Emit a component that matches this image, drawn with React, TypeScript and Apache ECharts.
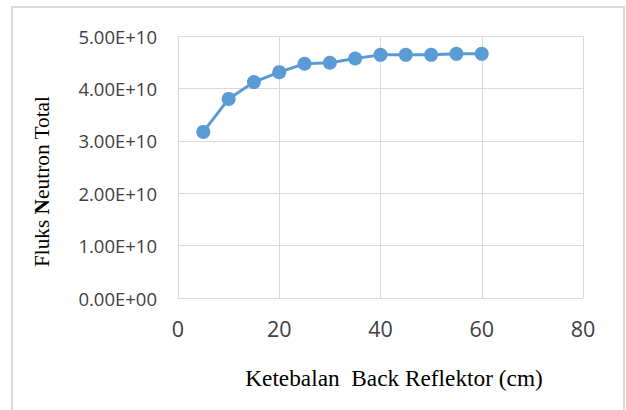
import React, { useEffect, useRef } from "react";
import * as echarts from "echarts";

const thickness = [5, 10, 15, 20, 25, 30, 35, 40, 45, 50, 55, 60];
const flux = [3.17e10, 3.8e10, 4.12e10, 4.31e10, 4.47e10, 4.49e10, 4.57e10, 4.64e10, 4.64e10, 4.64e10, 4.66e10, 4.66e10];
const xTitle = "Ketebalan  Back Reflektor (cm)";
const yTitle = "Fluks {b|N}eutron Total";

function sci(v: number): string {
  if (v === 0) return "0.00E+00";
  const exp = Math.floor(Math.log10(Math.abs(v)));
  const mant = v / Math.pow(10, exp);
  const sign = exp < 0 ? "-" : "+";
  const e = String(Math.abs(exp)).padStart(2, "0");
  return mant.toFixed(2) + "E" + sign + e;
}

export default function App() {
  const ref = useRef<HTMLDivElement>(null);
  useEffect(() => {
    if (!ref.current) return;
    const chart = echarts.init(ref.current, undefined, { renderer: "svg" });
    const grid = "#d9d9d9";
    chart.setOption({
      animation: false,
      backgroundColor: "#ffffff",
      grid: { left: 178, right: 43, top: 36, bottom: 112 },
      xAxis: {
        type: "value",
        min: 0,
        max: 80,
        interval: 20,
        axisLine: { show: false },
        axisTick: { show: false },
        splitLine: { show: true, lineStyle: { color: grid, width: 1 } },
        axisLabel: { color: "#404040", fontFamily: "Open Sans", fontSize: 21.5, margin: 19 },
      },
      yAxis: {
        type: "value",
        min: 0,
        max: 5e10,
        interval: 1e10,
        axisLine: { show: false },
        axisTick: { show: false },
        splitLine: { show: true, lineStyle: { color: grid, width: 1 } },
        axisLabel: {
          color: "#404040",
          fontFamily: "Open Sans",
          fontSize: 18.5,
          margin: 21,
          formatter: (v: number) => sci(v),
        },
      },
      graphic: [
        {
          type: "rect",
          shape: { x: 12, y: 7, width: 612, height: 420 },
          style: { fill: "none", stroke: grid, lineWidth: 2 },
          silent: true,
        },
        {
          type: "text",
          x: 394,
          y: 378,
          style: {
            text: xTitle,
            font: "23.3px 'Liberation Serif'",
            fill: "#000000",
            align: "center",
            verticalAlign: "middle",
          },
        },
        {
          type: "text",
          x: 42,
          y: 181.5,
          rotation: Math.PI / 2,
          style: {
            text: yTitle,
            font: "21.3px 'Liberation Serif'",
            fill: "#000000",
            align: "center",
            verticalAlign: "middle",
            rich: { b: { fontWeight: "bold", fontSize: 21.3, fontFamily: "Liberation Serif" } },
          },
        },
      ],
      series: [
        {
          type: "line",
          data: thickness.map((t, i) => [t, flux[i]]),
          symbol: "circle",
          symbolSize: 14,
          lineStyle: { color: "#5b9bd5", width: 3 },
          itemStyle: { color: "#5b9bd5" },
        },
      ],
    });
    return () => chart.dispose();
  }, []);
  return (
    <div
      ref={ref}
      style={{ position: "absolute", left: 0, top: 0, width: 626, height: 410 }}
    />
  );
}
